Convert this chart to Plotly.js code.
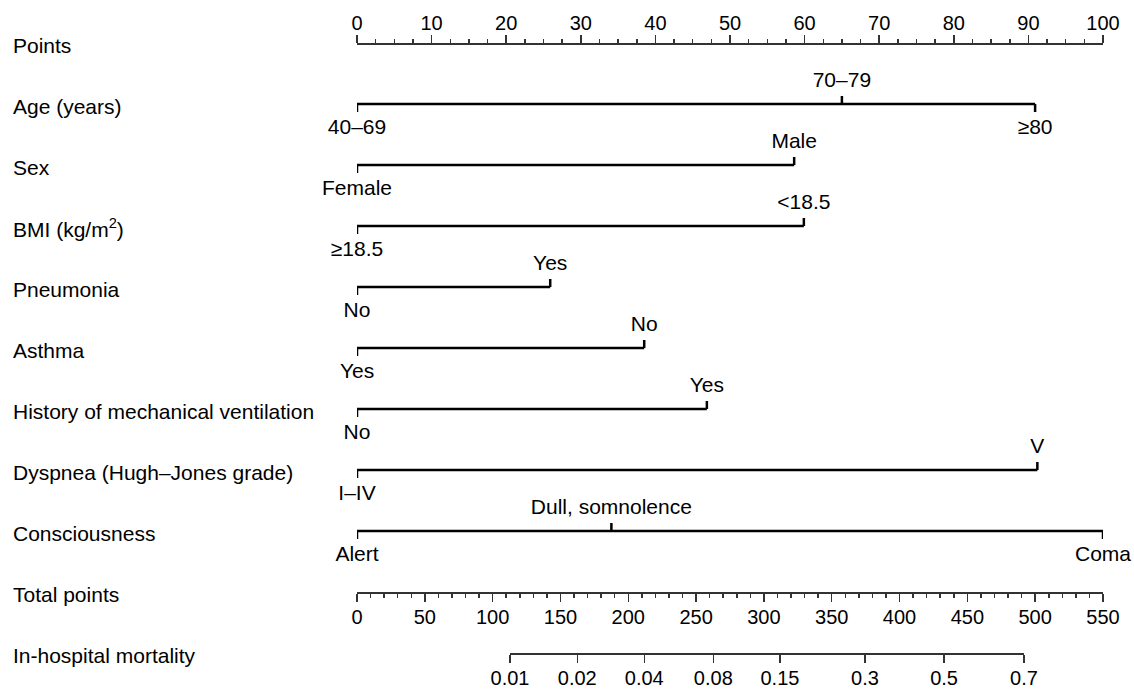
<!DOCTYPE html>
<html>
<head>
<meta charset="utf-8">
<script src="https://cdn.plot.ly/plotly-3.0.1.min.js"></script>
<style>html,body{margin:0;padding:0;background:#fff;}#chart{width:1134px;height:691px;}</style>
</head>
<body>
<div id="chart"></div>
<script>
// ---- Data ----
var rowNames = ["Points", "Age (years)", "Sex", "BMI (kg/m<sup>2</sup>)", "Pneumonia", "Asthma",
  "History of mechanical ventilation", "Dyspnea (Hugh\u2013Jones grade)", "Consciousness",
  "Total points", "In-hospital mortality"];

var ageLevels = ["40\u201369", "70\u201379", "\u226580"];
var agePoints = [0, 65.0, 90.9];
var sexLevels = ["Female", "Male"];
var sexPoints = [0, 58.6];
var bmiLevels = ["\u226518.5", "<18.5"];
var bmiPoints = [0, 59.9];
var pneumoniaLevels = ["No", "Yes"];
var pneumoniaPoints = [0, 25.9];
var asthmaLevels = ["Yes", "No"];
var asthmaPoints = [0, 38.5];
var ventLevels = ["No", "Yes"];
var ventPoints = [0, 46.9];
var dyspneaLevels = ["I\u2013IV", "V"];
var dyspneaPoints = [0, 91.2];
var consciousLevels = ["Alert", "Dull, somnolence", "Coma"];
var consciousPoints = [0, 34.1, 100];

var mortalityLabels = ["0.01", "0.02", "0.04", "0.08", "0.15", "0.3", "0.5", "0.7"];
var mortalityTotalPoints = [112.8, 162.4, 211.8, 262.7, 311.8, 374.5, 432.8, 491.7];

// ---- Layout helpers ----
var variables = [
  {row: 1, levels: ageLevels, pts: agePoints},
  {row: 2, levels: sexLevels, pts: sexPoints},
  {row: 3, levels: bmiLevels, pts: bmiPoints},
  {row: 4, levels: pneumoniaLevels, pts: pneumoniaPoints},
  {row: 5, levels: asthmaLevels, pts: asthmaPoints},
  {row: 6, levels: ventLevels, pts: ventPoints},
  {row: 7, levels: dyspneaLevels, pts: dyspneaPoints},
  {row: 8, levels: consciousLevels, pts: consciousPoints}
];

var W = 1134, H = 691;
var ML = 357, MR = 31;
var rowTop = 43, rowStep = 61;           // pixel y of row 0 and spacing
var yMin = -rowTop / rowStep, yMax = (H - rowTop) / rowStep;
var px = 1 / rowStep;                     // one pixel in row units
var tickLen = 8 * px, belowOff = 25 * px, aboveOff = 22 * px;
var FONT = "Arial, 'Liberation Sans', Helvetica, sans-serif";
function rowPos(r) { return 1 - (rowTop + rowStep * r) / H; }

var traces = [];
variables.forEach(function (v) {
  var xs = v.pts, lo = Math.min.apply(null, xs), hi = Math.max.apply(null, xs);
  traces.push({x: [lo, hi], y: [v.row, v.row], mode: "lines", line: {color: "#000", width: 2.5},
    cliponaxis: false, hoverinfo: "skip", showlegend: false});
  var tx = [], ty = [], lx = [], ly = [];
  v.pts.forEach(function (p, i) {
    var dir = (i % 2 === 0) ? 1 : -1;   // even: below, odd: above (y reversed)
    tx.push(p, p, null);
    ty.push(v.row, v.row + dir * tickLen, null);
    lx.push(p);
    ly.push(v.row + (dir > 0 ? belowOff : -aboveOff));
  });
  traces.push({x: tx, y: ty, mode: "lines", line: {color: "#000", width: 2.5},
    cliponaxis: false, hoverinfo: "skip", showlegend: false});
  traces.push({x: lx, y: ly, mode: "text", text: v.levels, textposition: "middle center",
    cliponaxis: false, textfont: {family: FONT, size: 21, color: "#000"}, hoverinfo: "skip", showlegend: false});
});
// anchor traces for the secondary axes
traces.push({x: [0, 550], y: [9, 9], xaxis: "x2", yaxis: "y", mode: "markers",
  marker: {opacity: 0}, hoverinfo: "skip", showlegend: false});
traces.push({x: [mortalityTotalPoints[0], mortalityTotalPoints[mortalityTotalPoints.length - 1]], y: [10, 10],
  xaxis: "x3", yaxis: "y", mode: "markers", marker: {opacity: 0}, hoverinfo: "skip", showlegend: false});

var annotations = rowNames.map(function (n, i) {
  return {xref: "paper", yref: "y", x: (11 - ML) / (W - ML - MR), y: i + 2 * px, text: n,
    xanchor: "left", yanchor: "middle", showarrow: false,
    font: {family: FONT, size: 21, color: "#000"}};
});

var axisCommon = {
  showgrid: false, zeroline: false, showline: true, linecolor: "#333", linewidth: 1.5,
  ticks: "outside", tickcolor: "#333", tickwidth: 1.5, ticklen: 8,
  tickfont: {family: FONT, size: 20, color: "#000"}, fixedrange: true, anchor: "free"
};
function ax(extra) { return Object.assign({}, axisCommon, extra); }

var mortLo = mortalityTotalPoints[0], mortHi = mortalityTotalPoints[mortalityTotalPoints.length - 1];

var layout = {
  width: W, height: H, margin: {l: ML, r: MR, t: 0, b: 0},
  paper_bgcolor: "#fff", plot_bgcolor: "rgba(0,0,0,0)",
  font: {family: FONT, color: "#000"},
  xaxis: ax({range: [0, 100], side: "top", position: rowPos(0), dtick: 10, tick0: 0,
    ticklabelstandoff: -3,
    minor: {dtick: 2.5, ticklen: 4, ticks: "outside", tickcolor: "#333", tickwidth: 1.5}}),
  xaxis2: ax({range: [0, 550], side: "bottom", overlaying: "x", position: rowPos(9), dtick: 50, tick0: 0,
    ticklabelstandoff: -2,
    minor: {dtick: 10, ticklen: 4, ticks: "outside", tickcolor: "#333", tickwidth: 1.5}}),
  xaxis3: ax({range: [mortLo, mortHi], side: "bottom", position: rowPos(10),
    domain: [mortLo / 550, mortHi / 550], ticklabelstandoff: -2,
    tickmode: "array", tickvals: mortalityTotalPoints, ticktext: mortalityLabels}),
  yaxis: {range: [yMax, yMin], visible: false, fixedrange: true},
  annotations: annotations,
  showlegend: false
};

Plotly.newPlot("chart", traces, layout, {displayModeBar: false, staticPlot: true});
</script>
</body>
</html>
